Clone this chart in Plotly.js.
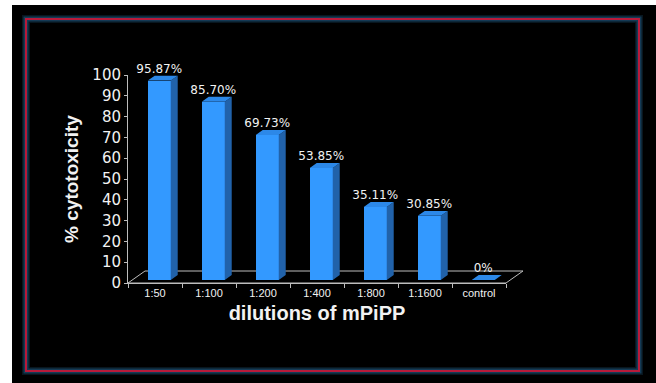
<!DOCTYPE html>
<html>
<head>
<meta charset="utf-8">
<script src="https://cdn.plot.ly/plotly-3.0.1.min.js"></script>
<style>
  html, body { margin: 0; padding: 0; background: #ffffff; width: 656px; height: 383px; overflow: hidden; }
  #chart { position: absolute; left: 12px; top: 5px; width: 644px; height: 378px; }
</style>
</head>
<body>
<div id="chart"></div>
<script>
// ---- data ----
const categories = ['1:50', '1:100', '1:200', '1:400', '1:800', '1:1600', 'control'];
const cytotoxicity = [95.87, 85.70, 69.73, 53.85, 35.11, 30.85, 0];
const valueLabels = ['95.87%', '85.70%', '69.73%', '53.85%', '35.11%', '30.85%', '0%'];
const yTickValues = [0, 10, 20, 30, 40, 50, 60, 70, 80, 90, 100];

// ---- page geometry (pixels inside the chart div) ----
const W = 644, H = 378, OX = 12, OY = 5;
const fx = px => (px - OX) / W;
const fy = py => 1 - (py - OY) / H;

// front plane of the floor / value axis
const FRONT = { left: 128, right: 506, base: 283, top: 75 };
const slotPx = (FRONT.right - FRONT.left) / categories.length;
const unitPx = (FRONT.base - FRONT.top) / 100;

// oblique depth of the floor, in pixels, and where the columns sit in depth
const DEPTH_X = 17, DEPTH_Y = 12;
const BAR_Z0 = 0.25, BAR_Z1 = 0.66, BAR_W = 0.426;
const ddx = DEPTH_X / slotPx, ddy = DEPTH_Y / unitPx;

// larger overlay area for the 3D parts (same scales as the axes)
const OVER = { left: 128, right: 560, base: 296, top: 50 };
const x2range = [-0.5, -0.5 + (OVER.right - OVER.left) / slotPx];
const y2range = [-(OVER.base - FRONT.base) / unitPx, (FRONT.base - OVER.top) / unitPx];

// project (category position, value, depth) to overlay coordinates
const proj = (x, v, z) => [x + z * ddx, v + z * ddy];

const FRONT_COLOR = '#3399ff', TOP_COLOR = '#2c88e8', SIDE_COLOR = '#2162aa';
const LINE_COLOR = '#bdbdbd', TEXT_COLOR = '#f2f2f2';

// top and side faces of each column
const topX = [], topY = [], sideX = [], sideY = [];
cytotoxicity.forEach((v, i) => {
  const xl = i - BAR_W / 2, xr = i + BAR_W / 2;
  const t = [proj(xl, v, BAR_Z0), proj(xr, v, BAR_Z0), proj(xr, v, BAR_Z1), proj(xl, v, BAR_Z1)];
  t.forEach(p => { topX.push(p[0]); topY.push(p[1]); });
  topX.push(null); topY.push(null);
  if (v > 0) {
    const s = [proj(xr, 0, BAR_Z0), proj(xr, v, BAR_Z0), proj(xr, v, BAR_Z1), proj(xr, 0, BAR_Z1)];
    s.forEach(p => { sideX.push(p[0]); sideY.push(p[1]); });
    sideX.push(null); sideY.push(null);
  }
});

const idx = categories.map((c, i) => i);

const traces = [
  // keeps the axis frame subplot alive
  { type: 'scatter', x: [0], y: [0], mode: 'none', hoverinfo: 'skip', showlegend: false, xaxis: 'x', yaxis: 'y' },
  // front faces of the columns
  {
    type: 'bar', xaxis: 'x2', yaxis: 'y2',
    x: idx.map(i => proj(i, 0, BAR_Z0)[0]),
    y: cytotoxicity,
    base: cytotoxicity.map(() => BAR_Z0 * ddy),
    width: BAR_W,
    marker: { color: FRONT_COLOR, line: { width: 0 } },
    showlegend: false, hoverinfo: 'skip'
  },
  {
    type: 'scatter', xaxis: 'x2', yaxis: 'y2', x: sideX, y: sideY,
    mode: 'lines', fill: 'toself', fillcolor: SIDE_COLOR, line: { width: 0, color: SIDE_COLOR },
    showlegend: false, hoverinfo: 'skip'
  },
  {
    type: 'scatter', xaxis: 'x2', yaxis: 'y2', x: topX, y: topY,
    mode: 'lines', fill: 'toself', fillcolor: TOP_COLOR, line: { width: 0, color: TOP_COLOR },
    showlegend: false, hoverinfo: 'skip'
  },
  // value labels above the columns
  {
    type: 'scatter', xaxis: 'x2', yaxis: 'y2',
    x: idx.map(i => proj(i, 0, BAR_Z0)[0]),
    y: cytotoxicity.map(v => proj(0, v, BAR_Z1)[1]),
    mode: 'text', text: valueLabels, textposition: 'top center',
    textfont: { family: 'DejaVu Sans', size: 12, color: TEXT_COLOR },
    cliponaxis: false, showlegend: false, hoverinfo: 'skip'
  }
];

// floor outline of the 3D box
const n = categories.length;
const floorPts = [proj(-0.5, 0, 0), proj(n - 0.5, 0, 0), proj(n - 0.5, 0, 1), proj(-0.5, 0, 1)];
const floorPath = 'M' + floorPts.map(p => p[0] + ',' + p[1]).join('L') + 'Z';

const frame = { type: 'rect', xref: 'paper', yref: 'paper', x0: fx(26), x1: fx(639), y0: fy(371), y1: fy(19), fillcolor: 'rgba(0,0,0,0)' };

const shapes = [
  { type: 'path', xref: 'x2', yref: 'y2', path: floorPath, layer: 'below',
    line: { color: LINE_COLOR, width: 1 }, fillcolor: 'rgba(0,0,0,0)' },
  // glowing frame
  Object.assign({}, frame, { line: { color: '#08161f', width: 8 } }),
  Object.assign({}, frame, { line: { color: '#143a55', width: 5 } }),
  Object.assign({}, frame, { line: { color: '#b81a3a', width: 2 } })
];

const layout = {
  width: W, height: H,
  margin: { l: 0, r: 0, t: 0, b: 0, pad: 0 },
  paper_bgcolor: '#000000',
  plot_bgcolor: 'rgba(0,0,0,0)',
  showlegend: false,
  xaxis: {
    domain: [fx(FRONT.left), fx(FRONT.right)],
    range: [-0.5, n - 0.5],
    tickmode: 'array', tickvals: idx, ticktext: categories,
    ticks: '', showline: true, linecolor: LINE_COLOR, linewidth: 1,
    showgrid: false, zeroline: false,
    minor: { tickmode: 'linear', tick0: -0.5, dtick: 1, ticks: 'outside', ticklen: 4, tickcolor: LINE_COLOR, showgrid: false },
    tickfont: { family: 'Liberation Sans', size: 11, color: TEXT_COLOR },
    title: { text: 'dilutions of mPiPP', standoff: 7,
             font: { family: 'Liberation Sans', size: 20, weight: 'bold', color: TEXT_COLOR } },
    fixedrange: true
  },
  yaxis: {
    domain: [fy(FRONT.base), fy(FRONT.top)],
    range: [0, 100],
    tickmode: 'array', tickvals: yTickValues,
    ticks: 'outside', ticklen: 3, tickcolor: LINE_COLOR,
    showline: true, linecolor: LINE_COLOR, linewidth: 1,
    showgrid: false, zeroline: false,
    tickfont: { family: 'DejaVu Sans', size: 15, color: TEXT_COLOR },
    title: { text: '% cytotoxicity', standoff: 8,
             font: { family: 'Liberation Sans', size: 19, weight: 'bold', color: TEXT_COLOR } },
    fixedrange: true
  },
  xaxis2: { domain: [fx(OVER.left), fx(OVER.right)], range: x2range, anchor: 'y2', visible: false, fixedrange: true },
  yaxis2: { domain: [fy(OVER.base), fy(OVER.top)], range: y2range, anchor: 'x2', visible: false, fixedrange: true },
  shapes: shapes,
  bargap: 0
};

Plotly.newPlot('chart', traces, layout, { staticPlot: true, displayModeBar: false });
</script>
</body>
</html>
